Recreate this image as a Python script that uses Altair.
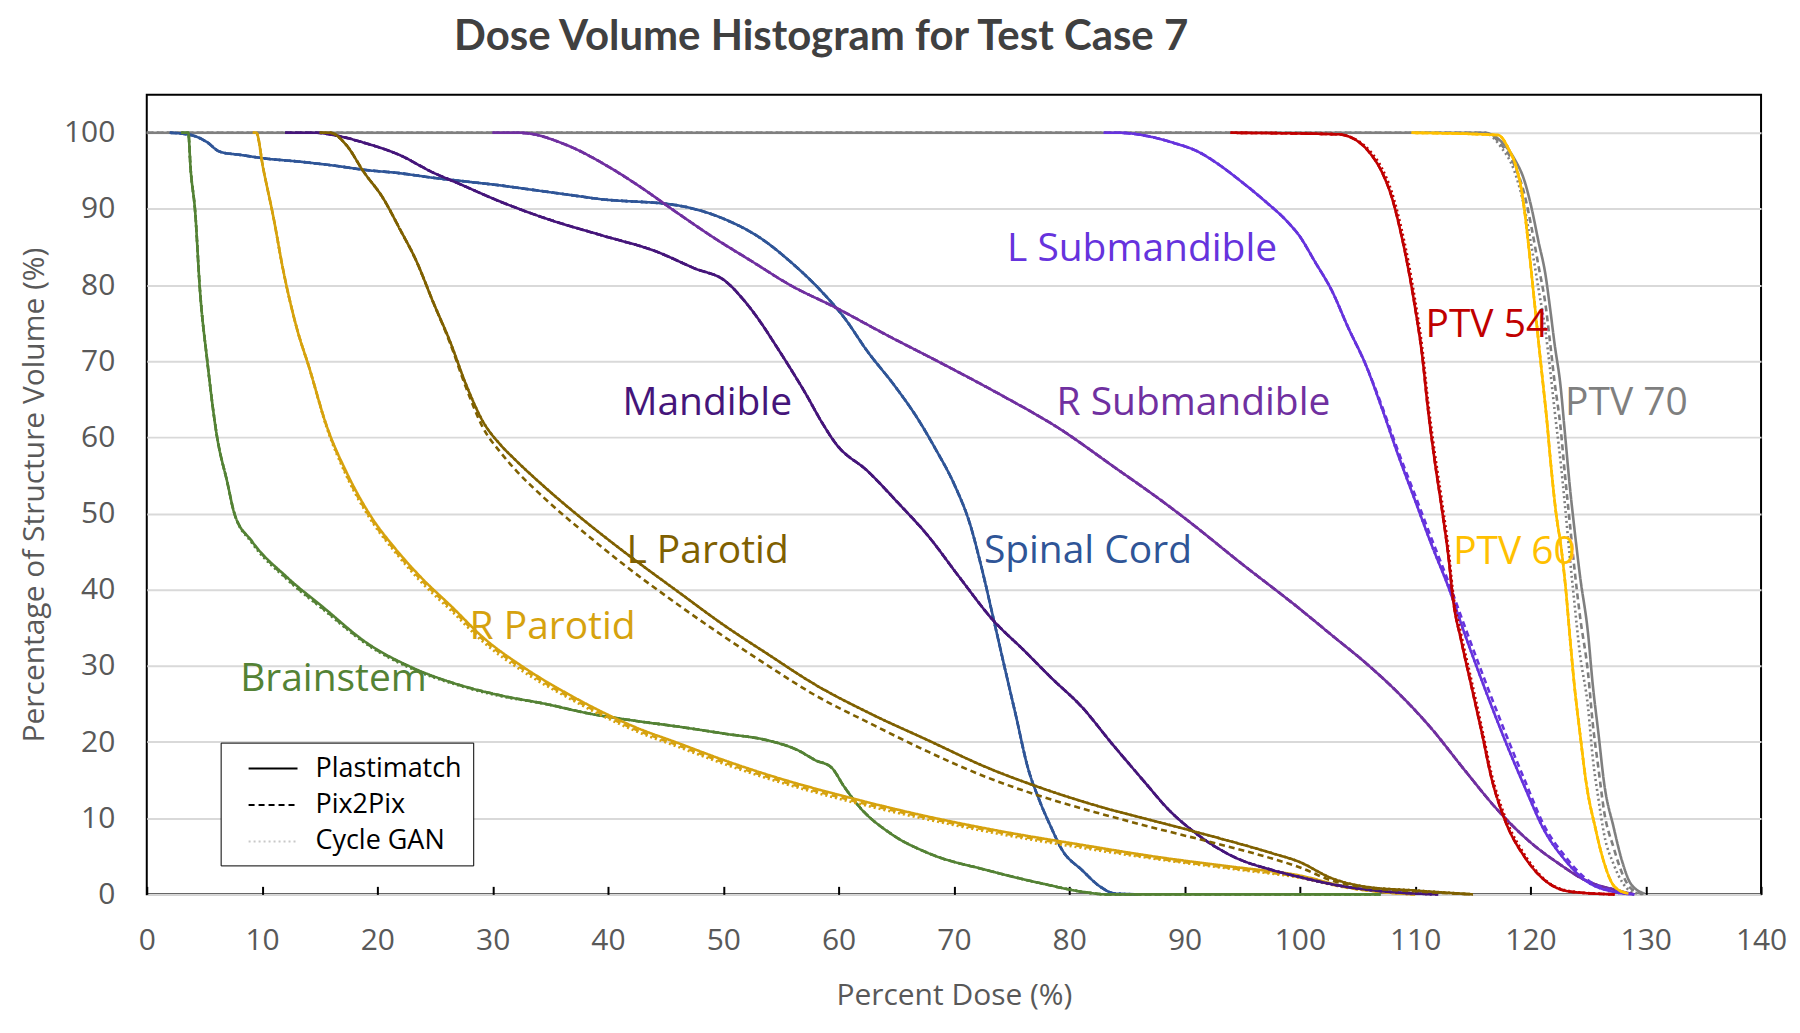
import altair as alt
import pandas as pd

# ---------------- data ----------------
STRUCTURES = ["PTV 70", "Spinal Cord", "Brainstem", "R Parotid", "Mandible",
              "L Parotid", "R Submandible", "L Submandible", "PTV 54", "PTV 60"]
COLORS = ["#7F7F7F", "#2F5597", "#548235", "#D6A20E", "#45157A",
          "#7F6000", "#7030A0", "#6633DD", "#C00000", "#FFC000"]
METHODS = ["Plastimatch", "Pix2Pix", "Cycle GAN"]

# PTV 70
D_PTV70 = [0, 116.0, 117.5, 118.6, 119.5, 120.1, 120.7, 121.3, 121.7, 122.1, 122.6, 123.0,
           123.4, 123.8, 124.3, 125.0, 125.4, 125.9, 126.4, 127.2, 128.0, 128.7, 129.9]
V_PTV70_PM = [100, 100, 98.8, 96.6, 93.6, 90.1, 85.7, 81.4, 77.0, 72.2, 66.9, 60.4,
              53.8, 48.2, 41.8, 34.2, 27.6, 21.1, 14.5, 8.9, 4.1, 1.4, 0.1]
V_PTV70_P2P = [100, 100, 98.4, 95.8, 91.8, 87.5, 82.5, 77.5, 72.5, 67.2, 61.5, 55.0,
               49.0, 43.0, 36.5, 29.0, 22.5, 16.5, 10.8, 6.2, 2.6, 0.8, 0]
V_PTV70_CG = [100, 100, 98.0, 95.0, 90.0, 85.0, 79.5, 74.0, 69.0, 63.5, 57.0, 51.0,
              44.5, 38.5, 31.5, 24.5, 18.0, 12.5, 7.8, 4.0, 1.5, 0.4, 0]

# Spinal Cord
D_SC = [2.0, 3.0, 4.3, 5.2, 6.35, 8.1, 10.4, 13.3, 16.2, 19.05, 21.9, 24.8, 27.7, 30.6,
        33.5, 36.4, 39.3, 45.9, 50.2, 53.2, 55.8, 58.5, 60.5, 62.5, 64.8, 66.8, 68.4, 70.1,
        71.4, 72.4, 73.4, 74.4, 75.4, 76.4, 77.4, 78.4, 79.4, 81.1, 82.7, 84.0, 86.0]
V_SC_PM = [100, 99.9, 99.5, 98.8, 97.5, 97.1, 96.6, 96.2, 95.7, 95.1, 94.7, 94.1, 93.6, 93.1,
           92.5, 91.9, 91.3, 90.5, 88.6, 86.2, 83.1, 79.2, 75.7, 71.3, 66.9, 62.6, 58.5, 53.6,
           48.6, 42.9, 36.4, 29.8, 23.3, 16.7, 12.4, 8.9, 5.8, 3.2, 1.0, 0.1, 0]
V_SC_P2P = [100, 99.9, 99.5, 98.8, 97.5, 97.1, 96.6, 96.2, 95.7, 95.1, 94.7, 94.1, 93.6, 93.1,
            92.5, 91.9, 91.3, 90.5, 88.6, 86.2, 83.1, 79.2, 75.7, 71.3, 66.9, 62.6, 58.5, 53.6,
            48.6, 42.9, 36.4, 29.8, 23.3, 16.7, 12.4, 8.9, 5.8, 3.2, 1.0, 0.1, 0]
V_SC_CG = [100, 99.9, 99.5, 98.8, 97.5, 97.1, 96.6, 96.2, 95.7, 95.1, 94.7, 94.1, 93.6, 93.1,
           92.5, 91.9, 91.3, 90.5, 88.6, 86.2, 83.1, 79.2, 75.7, 71.3, 66.9, 62.6, 58.5, 53.6,
           48.6, 42.9, 36.4, 29.8, 23.3, 16.7, 12.4, 8.9, 5.8, 3.2, 1.0, 0.1, 0]

# Brainstem
D_BS = [3.0, 3.6, 3.8, 4.2, 4.6, 5.25, 6.06, 7.0, 7.6, 9.1, 12.2, 15.3, 19.2, 23.0, 26.9,
        30.75, 34.6, 38.5, 42.3, 46.2, 50.1, 53.9, 56.5, 58.0, 59.35, 60.5, 61.8, 64.5, 67.8,
        72.8, 77.7, 81.1, 83.2, 107.0]
V_BS_PM = [100, 100, 95.3, 89.6, 79.6, 70.0, 60.4, 54.0, 50.0, 46.4, 41.6, 37.7, 32.9, 29.8,
           27.6, 26.1, 25.0, 23.7, 22.8, 22.0, 21.1, 20.2, 18.9, 17.6, 16.7, 14.1, 11.5, 8.0,
           5.4, 3.2, 1.4, 0.35, 0, 0]
V_BS_P2P = [100, 100, 95.3, 89.6, 79.6, 70.0, 60.4, 54.0, 50.0, 46.4, 41.4, 37.5, 32.8, 29.7,
            27.6, 26.1, 25.0, 23.7, 22.8, 22.0, 21.1, 20.2, 18.9, 17.6, 16.7, 14.1, 11.5, 8.0,
            5.4, 3.2, 1.4, 0.35, 0, 0]
V_BS_CG = [100, 100, 95.3, 89.6, 79.6, 70.0, 60.4, 54.0, 50.0, 46.2, 41.3, 37.4, 32.7, 29.6,
           27.5, 26.0, 25.0, 23.7, 22.8, 22.0, 21.1, 20.2, 18.9, 17.6, 16.7, 14.1, 11.5, 8.0,
           5.4, 3.2, 1.4, 0.35, 0, 0]

# R Parotid
D_RP = [9.2, 9.5, 10.1, 11.0, 11.8, 13.0, 14.1, 15.6, 17.3, 19.5, 21.5, 23.8, 26.5, 29.2,
        32.7, 36.55, 39.3, 42.3, 46.2, 50.1, 54.5, 61.2, 67.8, 74.4, 81.1, 87.7, 94.3, 99.9,
        104.0, 108.0, 110.0]
V_RP_PM = [100, 100, 95.3, 88.8, 82.2, 74.4, 69.1, 61.5, 55.5, 49.5, 45.5, 41.6, 37.7, 33.7,
           29.8, 26.3, 24.1, 22.0, 19.8, 17.6, 15.4, 12.6, 10.2, 8.2, 6.5, 4.9, 3.6, 2.5,
           1.0, 0.2, 0]
V_RP_P2P = [100, 100, 95.3, 88.8, 82.2, 74.4, 69.1, 61.5, 55.2, 49.2, 45.2, 41.3, 37.4, 33.4,
            29.5, 26.0, 23.8, 21.7, 19.5, 17.3, 15.1, 12.3, 10.0, 8.0, 6.3, 4.7, 3.4, 2.3,
            0.9, 0.2, 0]
V_RP_CG = [100, 100, 95.3, 88.8, 82.2, 74.4, 69.1, 61.3, 55.0, 49.0, 45.0, 41.0, 37.1, 33.1,
           29.2, 25.8, 23.6, 21.5, 19.3, 17.1, 14.9, 12.1, 9.8, 7.8, 6.1, 4.6, 3.3, 2.2,
           0.9, 0.2, 0]

# Mandible
D_MD = [12.0, 14.7, 16.2, 19.05, 21.9, 24.8, 27.1, 30.6, 34.9, 39.3, 44.2, 47.5, 50.2, 51.85,
        53.2, 54.5, 55.8, 57.2, 58.5, 59.8, 62.5, 65.1, 67.8, 70.4, 73.4, 76.1, 78.4, 81.1,
        83.7, 86.4, 88.7, 91.0, 94.3, 97.6, 99.9, 104.0, 108.0, 112.0]
V_MD_PM = [100, 100, 99.7, 98.6, 97.1, 94.8, 93.3, 91.0, 88.6, 86.6, 84.4, 82.2, 80.5, 77.9,
           75.2, 72.2, 69.1, 65.6, 62.1, 59.1, 55.6, 51.5, 47.0, 41.8, 36.0, 32.0, 28.5, 24.6,
           19.8, 15.0, 11.0, 8.0, 4.9, 3.2, 2.3, 1.0, 0.3, 0]
V_MD_P2P = [100, 100, 99.7, 98.6, 97.1, 94.8, 93.3, 91.0, 88.6, 86.6, 84.4, 82.2, 80.5, 77.9,
            75.2, 72.2, 69.1, 65.6, 62.1, 59.1, 55.6, 51.5, 47.0, 41.8, 36.0, 32.0, 28.5, 24.6,
            19.8, 15.0, 11.0, 8.0, 4.9, 3.2, 2.3, 1.0, 0.3, 0]
V_MD_CG = [100, 100, 99.7, 98.6, 97.1, 94.8, 93.3, 91.0, 88.6, 86.6, 84.4, 82.2, 80.5, 77.9,
           75.2, 72.2, 69.1, 65.6, 62.1, 59.1, 55.6, 51.5, 47.0, 41.8, 36.0, 32.0, 28.5, 24.6,
           19.8, 15.0, 11.0, 8.0, 4.9, 3.2, 2.3, 1.0, 0.3, 0]

# L Parotid
D_LP = [15.0, 15.9, 17.3, 18.8, 20.5, 21.9, 23.4, 24.8, 26.3, 27.7, 29.15, 30.7, 32.0, 34.5,
        38.5, 41.2, 46.2, 50.1, 53.9, 57.9, 62.8, 67.8, 72.8, 77.7, 82.7, 87.7, 92.7, 97.6,
        99.9, 102.8, 105.7, 110.0, 115.0]
V_LP_PM = [100, 100, 98.4, 94.9, 91.4, 87.5, 83.1, 77.9, 72.6, 66.9, 62.1, 59.0, 57.0, 53.5,
           48.4, 45.2, 39.6, 35.3, 31.5, 27.6, 23.7, 20.2, 16.7, 13.9, 11.5, 9.5, 7.5, 5.4,
           4.3, 2.1, 1.0, 0.5, 0]
V_LP_P2P = [100, 100, 98.4, 94.9, 91.4, 87.5, 83.1, 77.9, 72.4, 66.5, 61.3, 58.0, 55.7, 52.0,
            46.8, 43.5, 37.9, 33.8, 30.0, 26.2, 22.4, 18.7, 15.4, 12.8, 10.6, 8.6, 6.7, 4.7,
            3.6, 1.8, 0.9, 0.4, 0]
V_LP_CG = [100, 100, 98.4, 94.9, 91.4, 87.5, 83.1, 77.9, 72.6, 66.9, 62.1, 59.0, 57.0, 53.5,
           48.4, 45.2, 39.6, 35.3, 31.5, 27.6, 23.7, 20.2, 16.7, 13.9, 11.5, 9.5, 7.5, 5.4,
           4.3, 2.1, 1.0, 0.5, 0]

# R Submandible
D_RS = [30.0, 32.3, 36.4, 39.3, 42.6, 45.9, 49.2, 52.5, 55.8, 59.8, 64.1, 69.1, 74.05, 79.0,
        84.0, 88.0, 91.2, 94.3, 99.9, 102.8, 105.7, 108.5, 111.4, 114.3, 117.2, 120.1, 122.4,
        124.7, 127.3, 129.0]
V_RS_PM = [100, 100, 98.4, 96.2, 93.1, 89.6, 86.2, 83.1, 80.0, 77.0, 73.5, 69.6, 65.6, 61.3,
           56.0, 51.7, 48.0, 44.2, 37.6, 34.0, 30.4, 26.5, 21.8, 16.3, 11.0, 6.7, 4.1,
           1.9, 0.6, 0]
V_RS_P2P = [100, 100, 98.4, 96.2, 93.1, 89.6, 86.2, 83.1, 80.0, 77.0, 73.5, 69.6, 65.6, 61.3,
            56.0, 51.7, 48.0, 44.2, 37.6, 34.0, 30.4, 26.5, 21.8, 16.3, 11.0, 6.7, 4.1,
            1.9, 0.6, 0]
V_RS_CG = [100, 100, 98.4, 96.2, 93.1, 89.6, 86.2, 83.1, 80.0, 77.0, 73.5, 69.6, 65.6, 61.3,
           56.0, 51.7, 48.0, 44.2, 37.6, 34.0, 30.4, 26.5, 21.8, 16.3, 11.0, 6.7, 4.1,
           1.9, 0.6, 0]

# L Submandible
D_LS = [83.0, 84.3, 87.0, 89.0, 91.2, 93.0, 95.0, 97.0, 99.0, 99.9, 101.3, 102.8, 104.2,
        105.7, 107.1, 108.5, 110.0, 111.4, 112.9, 114.3, 116.0, 117.8, 119.5, 121.2, 123.0,
        124.7, 127.3, 129.0]
V_LS_PM = [100, 100, 99.5, 98.7, 97.5, 95.8, 93.5, 91.0, 88.2, 86.6, 83.1, 79.2, 74.4, 69.6,
           63.9, 57.8, 51.7, 46.0, 40.3, 34.2, 27.2, 20.2, 14.1, 8.4, 4.5, 1.9, 0.3, 0]
V_LS_P2P = [100, 100, 99.5, 98.7, 97.5, 95.8, 93.5, 91.0, 88.2, 86.6, 83.1, 79.2, 74.4, 69.6,
            64.2, 58.3, 52.4, 46.8, 41.0, 35.2, 28.3, 21.3, 15.0, 9.0, 5.0, 2.2, 0.4, 0]
V_LS_CG = [100, 100, 99.5, 98.7, 97.5, 95.8, 93.5, 91.0, 88.2, 86.6, 83.1, 79.2, 74.4, 69.6,
           63.9, 57.8, 51.7, 46.0, 40.3, 34.2, 27.2, 20.2, 14.1, 8.4, 4.5, 1.9, 0.3, 0]

# PTV 54
D_P54 = [94.0, 103.3, 105.1, 106.2, 107.1, 108.0, 108.8, 109.4, 110.0, 110.6, 111.1, 111.7,
         112.3, 112.9, 113.3, 114.0, 114.9, 115.8, 116.6, 117.8, 119.5, 121.2, 123.5, 127.3]
V_P54_PM = [100, 99.8, 98.8, 97.1, 94.9, 91.4, 86.6, 82.2, 77.0, 70.9, 63.9, 56.9,
            50.8, 44.2, 38.6, 33.3, 27.2, 21.1, 15.4, 9.7, 4.9, 1.9, 0.35, 0]
V_P54_P2P = [100, 99.8, 98.8, 97.1, 94.9, 91.4, 86.6, 82.2, 77.0, 70.9, 63.9, 56.9,
             50.8, 44.2, 38.6, 33.3, 27.2, 21.1, 15.4, 9.7, 4.9, 1.9, 0.35, 0]
V_P54_CG = [100, 99.8, 98.9, 97.4, 95.4, 92.1, 87.5, 83.2, 78.0, 72.0, 65.0, 58.0,
            51.9, 45.2, 39.5, 34.1, 28.0, 21.8, 16.0, 10.2, 5.2, 2.0, 0.4, 0]

# PTV 60
D_P60 = [109.7, 117.2, 118.1, 118.8, 119.2, 119.5, 119.8, 120.1, 120.4, 120.7, 121.1, 121.4,
         121.8, 122.2, 122.7, 123.1, 123.4, 123.8, 124.3, 124.85, 125.6, 126.4, 127.3, 128.5]
V_P60_PM = [100, 99.7, 97.9, 95.3, 92.7, 89.6, 85.7, 81.4, 77.0, 72.6, 66.9, 62.6,
            56.0, 50.3, 45.1, 39.5, 34.2, 27.6, 21.1, 14.5, 8.9, 4.1, 1.0, 0.1]
V_P60_P2P = [100, 99.7, 97.9, 95.3, 92.7, 89.6, 85.7, 81.4, 77.0, 72.6, 66.9, 62.6,
             56.0, 50.3, 45.1, 39.5, 34.2, 27.6, 21.1, 14.5, 8.9, 4.1, 1.0, 0.1]
V_P60_CG = [100, 99.7, 97.9, 95.3, 92.7, 89.6, 85.7, 81.4, 77.0, 72.6, 66.9, 62.6,
            56.0, 50.3, 45.1, 39.5, 34.2, 27.6, 21.1, 14.5, 8.9, 4.1, 1.0, 0.1]

CURVES = {
    "PTV 70": (D_PTV70, V_PTV70_PM, V_PTV70_P2P, V_PTV70_CG),
    "Spinal Cord": (D_SC, V_SC_PM, V_SC_P2P, V_SC_CG),
    "Brainstem": (D_BS, V_BS_PM, V_BS_P2P, V_BS_CG),
    "R Parotid": (D_RP, V_RP_PM, V_RP_P2P, V_RP_CG),
    "Mandible": (D_MD, V_MD_PM, V_MD_P2P, V_MD_CG),
    "L Parotid": (D_LP, V_LP_PM, V_LP_P2P, V_LP_CG),
    "R Submandible": (D_RS, V_RS_PM, V_RS_P2P, V_RS_CG),
    "L Submandible": (D_LS, V_LS_PM, V_LS_P2P, V_LS_CG),
    "PTV 54": (D_P54, V_P54_PM, V_P54_P2P, V_P54_CG),
    "PTV 60": (D_P60, V_P60_PM, V_P60_P2P, V_P60_CG),
}

# curve labels (placed in data units)
LABEL_TEXT = ["L Submandible", "PTV 54", "PTV 70", "PTV 60", "Mandible",
              "R Submandible", "Spinal Cord", "L Parotid", "R Parotid", "Brainstem"]
LABEL_X = [74.6, 110.9, 123.0, 113.3, 41.25, 78.9, 72.6, 41.6, 28.0, 8.1]
LABEL_Y = [84.7, 74.7, 64.5, 44.9, 64.5, 64.5, 45.1, 45.1, 35.1, 28.3]

X_TICKS = list(range(0, 141, 10))
Y_TICKS = list(range(0, 101, 10))

# ---------------- build table ----------------
rows = []
order = 0
for s in STRUCTURES:
    dose, *vols = CURVES[s]
    for m, v in zip(METHODS, vols):
        assert len(dose) == len(v), (s, m, len(dose), len(v))
        for d, val in zip(dose, v):
            rows.append({"structure": s, "method": m, "dose": d, "volume": val,
                         "series": f"{order:02d}"})
        order += 1
df = pd.DataFrame(rows)

labels_df = pd.DataFrame({"structure": LABEL_TEXT, "dose": LABEL_X, "volume": LABEL_Y})

FONT = "Open Sans"
AXIS_GREY = "#595959"

x_enc = alt.X("dose:Q", scale=alt.Scale(domain=[0, 140], nice=False),
              axis=alt.Axis(values=X_TICKS, title="Percent Dose (%)", grid=False,
                            domain=False, ticks=True, tickSize=8, tickWidth=2,
                            tickColor="black", offset=-8, labelPadding=31,
                            labelFlush=False, titlePadding=25))
y_enc = alt.Y("volume:Q", scale=alt.Scale(domain=[0, 105], nice=False),
              axis=alt.Axis(values=Y_TICKS, title="Percentage of Structure Volume (%)",
                            grid=True, gridColor="#d9d9d9", gridWidth=2,
                            domain=False, ticks=False, labelPadding=32,
                            labelFlush=False, titlePadding=14))

color_scale = alt.Scale(domain=STRUCTURES, range=COLORS)

# legend: a wide horizontal line symbol drawn with a compact layout size
legend = alt.Legend(title=None, orient="none", legendX=74, legendY=649,
                    symbolType="M-1.75,0L1.75,0", symbolSize=784, symbolStrokeWidth=2,
                    symbolStrokeColor=alt.expr(
                        "datum.value === 'Cycle GAN' ? '#c8c8c8' : 'black'"),
                    symbolOffset=26.5,
                    labelFont=FONT, labelFontSize=27,
                    labelColor="black", labelOffset=27.5, padding=11, rowPadding=8.5,
                    fillColor="white", strokeColor="black")

lines = alt.Chart(df).mark_line(strokeWidth=2.6, interpolate="monotone").encode(
    x=x_enc,
    y=y_enc,
    color=alt.Color("structure:N", scale=color_scale, legend=None),
    strokeDash=alt.StrokeDash("method:N",
                              scale=alt.Scale(domain=METHODS,
                                              range=[[1, 0], [6, 4], [2, 3]]),
                              legend=legend),
    opacity=alt.Opacity("method:N",
                        scale=alt.Scale(domain=METHODS, range=[1, 1, 0.3]),
                        legend=None),
    detail="series:N",
)

text = alt.Chart(labels_df).mark_text(align="left", baseline="middle", font=FONT,
                                      fontSize=39).encode(
    x="dose:Q",
    y="volume:Q",
    text="structure:N",
    color=alt.Color("structure:N", scale=color_scale, legend=None),
)

chart = alt.layer(lines, text).properties(
    width=1617,
    height=801,
    padding={"left": 11, "top": 7, "right": 5, "bottom": 5},
    title=alt.TitleParams("Dose Volume Histogram for Test Case 7",
                          font="Lato", fontSize=42, fontWeight="bold", color="#404040",
                          anchor="middle", frame="group", dx=-133, offset=36),
).configure_view(stroke="black", strokeWidth=2).configure_axis(
    labelFont=FONT, labelFontSize=30, labelColor=AXIS_GREY,
    titleFont=FONT, titleFontSize=30, titleColor=AXIS_GREY, titleFontWeight="normal",
)

chart.save("out.html", embed_options={"renderer": "svg", "actions": False})
